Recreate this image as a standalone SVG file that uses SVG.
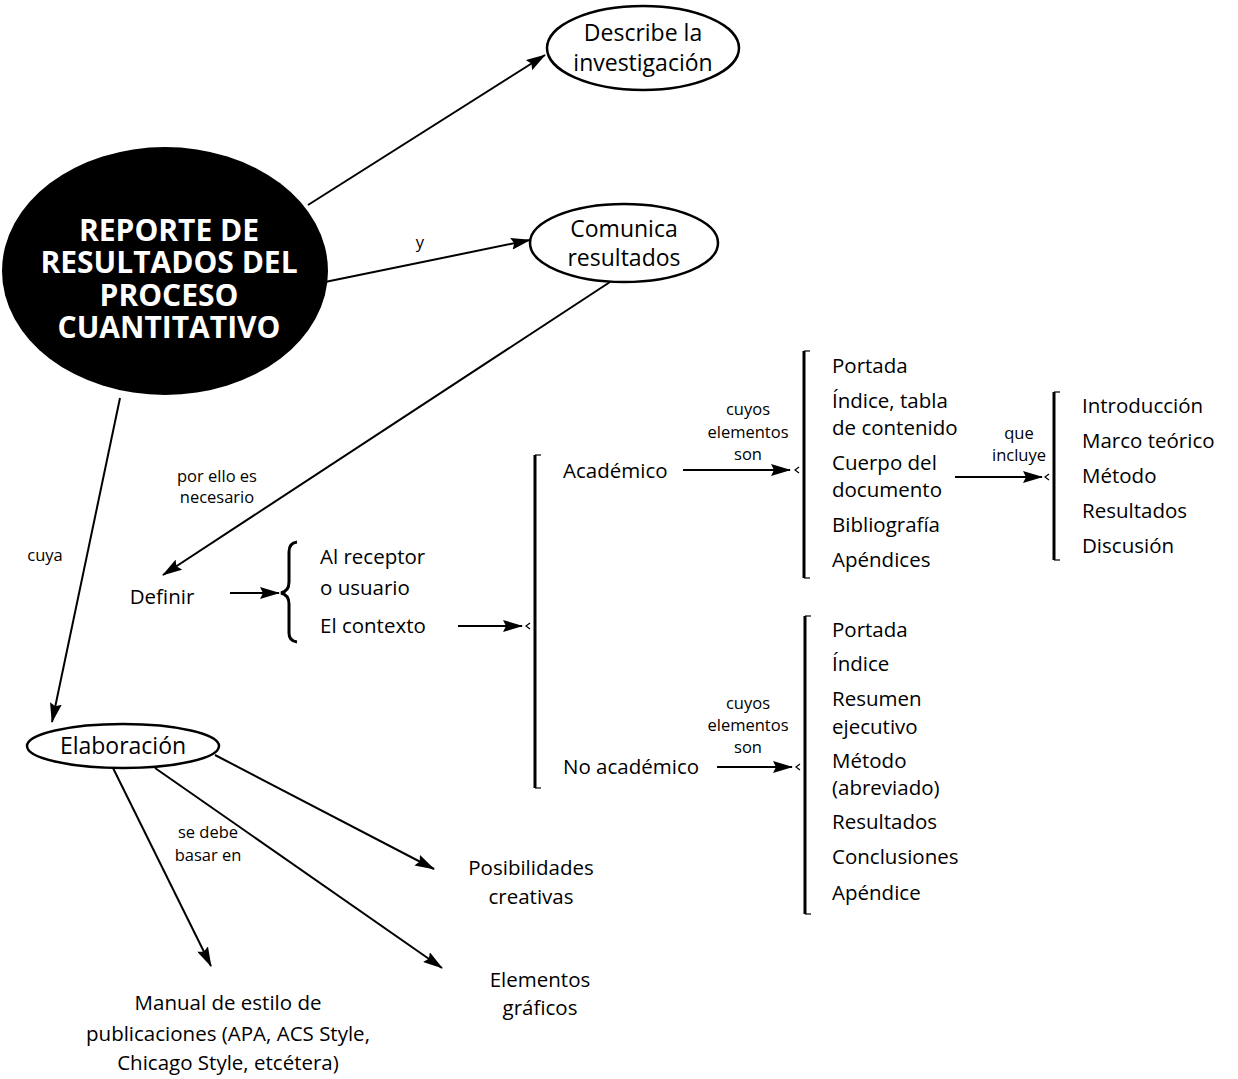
<svg xmlns="http://www.w3.org/2000/svg" width="1238" height="1079" viewBox="0 0 1238 1079">
<style>
  text { font-family: "Open Sans", "Liberation Sans", sans-serif; fill: #000; }
  .t { font-size: 20.5px; }
  .n { font-size: 23px; }
  .c { text-anchor: middle; }
  .s { font-size: 16.5px; }
  .title { font-size: 30px; font-weight: bold; fill: #fff; text-anchor: middle; }
  .node { fill: #fff; stroke: #000; stroke-width: 2.5; }
  .ln { stroke: #000; stroke-width: 2; fill: none; }
  .br { stroke: #000; stroke-width: 3; fill: none; }
  .tk { stroke: #000; stroke-width: 1.2; fill: none; }
</style>
<defs>
  <marker id="ah" markerUnits="userSpaceOnUse" markerWidth="20" markerHeight="12" refX="19" refY="6" orient="auto">
    <path d="M0,0 L20,6 L0,12 L3,6 z" fill="#000"/>
  </marker>
</defs>
<rect width="1238" height="1079" fill="#fff"/>

<g id="connectors">
  <line class="ln" x1="308" y1="205" x2="545" y2="55" marker-end="url(#ah)"/>
  <line class="ln" x1="325" y1="282" x2="530" y2="240" marker-end="url(#ah)"/>
  <line class="ln" x1="610" y1="282" x2="163" y2="575" marker-end="url(#ah)"/>
  <line class="ln" x1="120" y1="398" x2="52" y2="722" marker-end="url(#ah)"/>
  <line class="ln" x1="215" y1="755" x2="434" y2="869" marker-end="url(#ah)"/>
  <line class="ln" x1="155" y1="768" x2="442" y2="968" marker-end="url(#ah)"/>
  <line class="ln" x1="113" y1="768" x2="211" y2="966" marker-end="url(#ah)"/>
  <line class="ln" x1="230" y1="593" x2="279" y2="593" marker-end="url(#ah)"/>
  <line class="ln" x1="458" y1="626" x2="522" y2="626" marker-end="url(#ah)"/>
  <line class="ln" x1="683" y1="470" x2="790" y2="470" marker-end="url(#ah)"/>
  <line class="ln" x1="955" y1="477" x2="1042" y2="477" marker-end="url(#ah)"/>
  <line class="ln" x1="717" y1="767" x2="792" y2="767" marker-end="url(#ah)"/>
  <text class="s c" x="420" y="248">y</text>
  <text class="s c" x="217" y="482">por ello es</text>
  <text class="s c" x="217" y="503">necesario</text>
  <text class="s c" x="45" y="561">cuya</text>
  <text class="s c" x="208" y="838">se debe</text>
  <text class="s c" x="208" y="861">basar en</text>
  <text class="s c" x="748" y="415">cuyos</text>
  <text class="s c" x="748" y="438">elementos</text>
  <text class="s c" x="748" y="460">son</text>
  <text class="s c" x="1019" y="439">que</text>
  <text class="s c" x="1019" y="461">incluye</text>
  <text class="s c" x="748" y="709">cuyos</text>
  <text class="s c" x="748" y="731">elementos</text>
  <text class="s c" x="748" y="753">son</text>
</g>

<g id="reporte">
  <ellipse cx="165" cy="271" rx="163" ry="124" fill="#000"/>
  <text class="title" x="169" y="241">REPORTE DE</text>
  <text class="title" x="169" y="273">RESULTADOS DEL</text>
  <text class="title" x="169" y="306">PROCESO</text>
  <text class="title" x="169" y="338">CUANTITATIVO</text>
</g>

<g id="describe">
  <ellipse class="node" cx="643" cy="48" rx="96" ry="42"/>
  <text class="n c" x="643" y="41">Describe la</text>
  <text class="n c" x="643" y="71">investigación</text>
</g>

<g id="comunica">
  <ellipse class="node" cx="624" cy="243" rx="94" ry="39"/>
  <text class="n c" x="624" y="237">Comunica</text>
  <text class="n c" x="624" y="266">resultados</text>
</g>

<g id="definir">
  <text class="t c" x="162" y="604">Definir</text>
</g>

<g id="receptor-contexto">
  <path class="br" stroke-width="2" d="M297,542 Q289,543 289,552 L289,582 Q289,591 281,593 Q289,595 289,604 L289,633 Q289,641 297,642"/>
  <text class="t" x="320" y="564">Al receptor</text>
  <text class="t" x="320" y="595">o usuario</text>
  <text class="t" x="320" y="633">El contexto</text>
</g>

<g id="tipo">
  <line class="br" x1="535" y1="455" x2="535" y2="788"/>
  <line class="tk" x1="535" y1="455" x2="541" y2="455"/>
  <line class="tk" x1="535" y1="788" x2="541" y2="788"/>
  <path class="tk" d="M530,623 L526,626 L530,629"/>
  <text class="t" x="563" y="478">Académico</text>
  <text class="t" x="563" y="774">No académico</text>
</g>

<g id="academico-elementos">
  <line class="br" x1="804" y1="351" x2="804" y2="578"/>
  <line class="tk" x1="804" y1="351" x2="810" y2="351"/>
  <line class="tk" x1="804" y1="578" x2="810" y2="578"/>
  <path class="tk" d="M799,467 L795,470 L799,473"/>
  <text class="t" x="832" y="373">Portada</text>
  <text class="t" x="832" y="408">Índice, tabla</text>
  <text class="t" x="832" y="435">de contenido</text>
  <text class="t" x="832" y="470">Cuerpo del</text>
  <text class="t" x="832" y="497">documento</text>
  <text class="t" x="832" y="532">Bibliografía</text>
  <text class="t" x="832" y="567">Apéndices</text>
</g>

<g id="cuerpo-incluye">
  <line class="br" x1="1054" y1="392" x2="1054" y2="560"/>
  <line class="tk" x1="1054" y1="392" x2="1060" y2="392"/>
  <line class="tk" x1="1054" y1="560" x2="1060" y2="560"/>
  <path class="tk" d="M1049,474 L1045,477 L1049,480"/>
  <text class="t" x="1082" y="413">Introducción</text>
  <text class="t" x="1082" y="448">Marco teórico</text>
  <text class="t" x="1082" y="483">Método</text>
  <text class="t" x="1082" y="518">Resultados</text>
  <text class="t" x="1082" y="553">Discusión</text>
</g>

<g id="no-academico-elementos">
  <line class="br" x1="805" y1="616" x2="805" y2="914"/>
  <line class="tk" x1="805" y1="616" x2="811" y2="616"/>
  <line class="tk" x1="805" y1="914" x2="811" y2="914"/>
  <path class="tk" d="M800,764 L796,767 L800,770"/>
  <text class="t" x="832" y="637">Portada</text>
  <text class="t" x="832" y="671">Índice</text>
  <text class="t" x="832" y="706">Resumen</text>
  <text class="t" x="832" y="734">ejecutivo</text>
  <text class="t" x="832" y="768">Método</text>
  <text class="t" x="832" y="795">(abreviado)</text>
  <text class="t" x="832" y="829">Resultados</text>
  <text class="t" x="832" y="864">Conclusiones</text>
  <text class="t" x="832" y="900">Apéndice</text>
</g>

<g id="elaboracion">
  <ellipse class="node" cx="123" cy="746" rx="96" ry="22"/>
  <text class="n c" x="123" y="754">Elaboración</text>
</g>

<g id="posibilidades">
  <text class="t c" x="531" y="875">Posibilidades</text>
  <text class="t c" x="531" y="904">creativas</text>
</g>

<g id="elementos-graficos">
  <text class="t c" x="540" y="987">Elementos</text>
  <text class="t c" x="540" y="1015">gráficos</text>
</g>

<g id="manual">
  <text class="t c" x="228" y="1010">Manual de estilo de</text>
  <text class="t c" x="228" y="1041">publicaciones (APA, ACS Style,</text>
  <text class="t c" x="228" y="1070">Chicago Style, etcétera)</text>
</g>
</svg>
